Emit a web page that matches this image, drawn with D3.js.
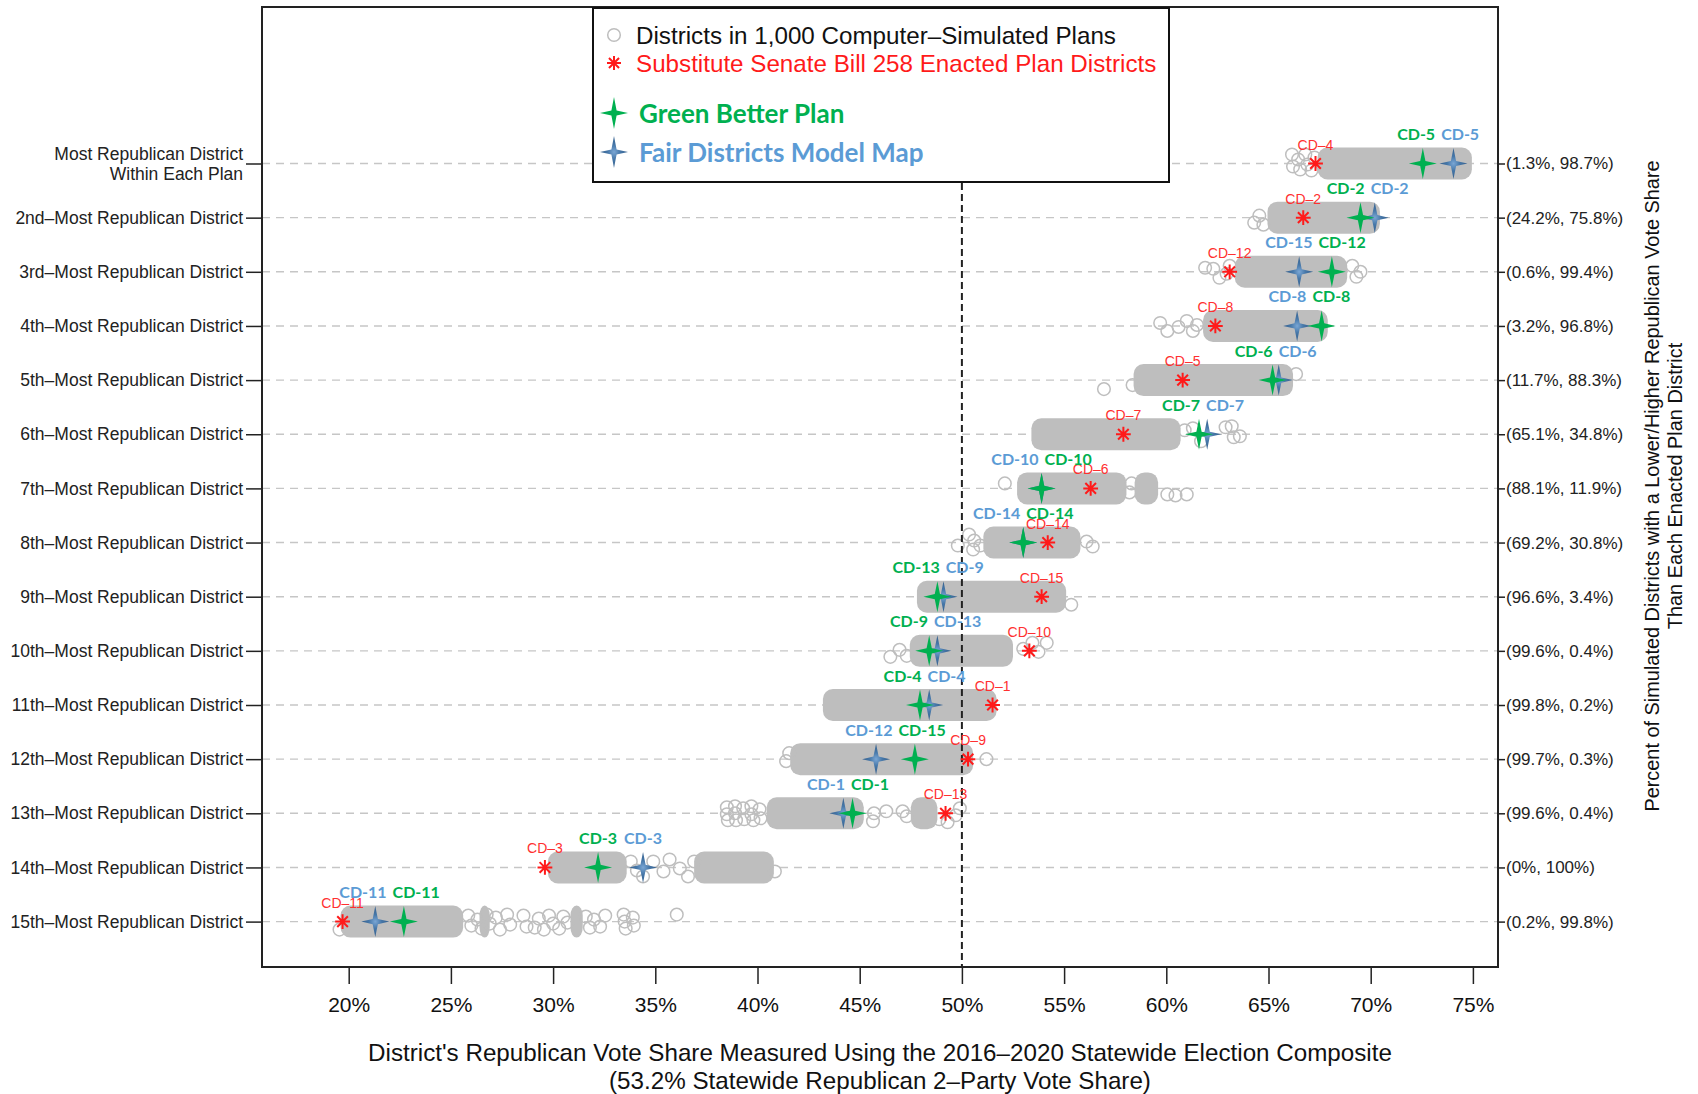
<!DOCTYPE html>
<html>
<head>
<meta charset="utf-8">
<script src="https://cdn.jsdelivr.net/npm/d3@7"></script>
<style>
  body { margin: 0; background: #fff; }
  svg { display: block; }
</style>
</head>
<body>
<svg id="chart" width="1698" height="1094"></svg>
<script>
// ---------------- DATA ----------------
const rowLabels = [
  ["Most Republican District", "Within Each Plan"],
  ["2nd–Most Republican District"], ["3rd–Most Republican District"], ["4th–Most Republican District"],
  ["5th–Most Republican District"], ["6th–Most Republican District"], ["7th–Most Republican District"],
  ["8th–Most Republican District"], ["9th–Most Republican District"], ["10th–Most Republican District"],
  ["11th–Most Republican District"], ["12th–Most Republican District"], ["13th–Most Republican District"],
  ["14th–Most Republican District"], ["15th–Most Republican District"]
];
const rightLabels = ["(1.3%, 98.7%)", "(24.2%, 75.8%)", "(0.6%, 99.4%)", "(3.2%, 96.8%)", "(11.7%, 88.3%)",
  "(65.1%, 34.8%)", "(88.1%, 11.9%)", "(69.2%, 30.8%)", "(96.6%, 3.4%)", "(99.6%, 0.4%)",
  "(99.8%, 0.2%)", "(99.7%, 0.3%)", "(99.6%, 0.4%)", "(0%, 100%)", "(0.2%, 99.8%)"];
const xTicks = [20, 25, 30, 35, 40, 45, 50, 55, 60, 65, 70, 75];

// Substitute Senate Bill 258 enacted plan (red asterisks)
const enactedValues = [67.3, 66.7, 63.1, 62.4, 60.8, 57.9, 56.3, 54.2, 53.9, 53.3, 51.5, 50.3, 49.2, 29.6, 19.7];
const enactedLabels = ["CD–4", "CD–2", "CD–12", "CD–8", "CD–5", "CD–7", "CD–6", "CD–14", "CD–15", "CD–10", "CD–1", "CD–9", "CD–13", "CD–3", "CD–11"];
// Green Better Plan
const greenValues = [72.55, 69.5, 68.1, 67.6, 65.2, 61.6, 53.9, 53.0, 48.8, 48.4, 47.95, 47.7, 44.65, 32.2, 22.7];
const greenLabels = ["CD-5", "CD-2", "CD-12", "CD-8", "CD-6", "CD-7", "CD-10", "CD-14", "CD-13", "CD-9", "CD-4", "CD-15", "CD-1", "CD-3", "CD-11"];
// Fair Districts Model Map
const blueValues = [74.05, 70.2, 66.5, 66.4, 65.5, 62.0, 53.9, 53.0, 49.1, 48.8, 48.4, 45.8, 44.2, 34.4, 21.3];
const blueLabels = ["CD-5", "CD-2", "CD-15", "CD-8", "CD-6", "CD-7", "CD-10", "CD-14", "CD-9", "CD-13", "CD-4", "CD-12", "CD-1", "CD-3", "CD-11"];

// Districts in 1,000 simulated plans: solid (overplotted) stretches [from %, to %]
const simBands = [
  [[67.4, 74.95]],
  [[64.95, 70.45]],
  [[63.35, 68.85]],
  [[61.8, 67.9]],
  [[58.4, 66.2]],
  [[53.4, 60.7]],
  [[52.7, 58.05], [58.45, 59.6]],
  [[51.05, 55.8]],
  [[47.8, 55.1]],
  [[47.45, 52.5]],
  [[43.2, 51.7]],
  [[41.6, 50.55]],
  [[40.45, 45.2], [47.5, 48.8]],
  [[29.75, 33.6], [36.9, 40.8]],
  [[19.6, 25.6], [26.4, 26.9], [30.85, 31.45]]
];
// simulated districts visible one by one: [vote share %, vertical jitter -1..1]
const simOutliers = [
  [[66.15,-0.9],[66.2,0.3],[66.45,-0.4],[66.55,0.6],[66.8,-0.9],[66.9,0.1],[67.1,0.7],[67.25,-0.6]],
  [[64.3,0.5],[64.55,-0.2],[64.75,0.7]],
  [[61.9,-0.4],[62.3,-0.3],[62.6,0.6],[62.95,0.2],[63.1,-0.6],[69.1,-0.6],[69.3,0.5],[69.5,0]],
  [[59.7,-0.3],[60.05,0.5],[60.6,0.1],[61.0,-0.5],[61.3,0.5],[61.5,-0.1]],
  [[56.95,0.9],[58.35,0.5],[66.35,-0.6]],
  [[60.9,-0.4],[61.3,-0.6],[61.7,0.7],[62.9,-0.7],[63.2,-0.8],[63.3,0.3],[63.6,0.2]],
  [[52.1,-0.5],[58.2,0.4],[58.3,-0.5],[60.05,0.6],[60.45,0.7],[61.0,0.6]],
  [[49.8,0.3],[50.35,-0.8],[50.55,0.7],[50.6,-0.2],[50.9,0.3],[56.1,-0.1],[56.4,0.4]],
  [[55.35,0.8]],
  [[46.5,0.6],[46.95,-0.1],[47.3,0.5],[53.0,-0.2],[53.45,-0.8],[53.75,0.1],[54.15,-0.8]],
  [],
  [[41.4,0.2],[41.55,-0.6],[51.2,0]],
  [[38.5,-0.6],[38.5,0.1],[38.55,0.7],[38.9,-0.7],[38.9,0],[38.95,0.7],[39.3,-0.5],[39.35,0.6],[39.7,-0.7],[39.7,0.1],[39.8,0.7],[40.1,-0.4],[40.15,0.5],
   [45.7,0],[45.65,0.8],[46.3,-0.2],[47.1,-0.2],[47.3,0.3],[48.9,0.6],[49.3,0.9],[49.7,0.2],[49.9,-0.5]],
  [[33.8,-0.6],[34.1,0.3],[34.4,0.9],[34.9,-0.6],[35.4,0.4],[35.7,-0.8],[36.2,0.1],[36.6,0.9],[36.9,-0.6],[40.85,0.4]],
  [[19.55,0.8],[25.85,-0.6],[26.0,0.4],[26.3,-0.2],[26.5,0.7],[26.75,-0.7],[26.9,0.2],[27.2,-0.4],[27.4,0.8],[27.75,-0.7],[27.9,0.3],
   [28.55,-0.6],[28.7,0.5],[29.1,0.6],[29.3,-0.3],[29.55,0.8],[29.8,-0.6],[30.0,0.2],[30.3,0.7],[30.5,-0.5],[30.7,0.1],
   [31.6,-0.5],[31.8,0.6],[32.0,-0.2],[32.3,0.5],[32.55,-0.6],[33.45,-0.7],[33.5,0],[33.55,0.7],[33.9,-0.4],[33.95,0.4],[36.05,-0.7]]
];

const legendItems = [
  {type: "circle", text: "Districts in 1,000 Computer–Simulated Plans"},
  {type: "asterisk", text: "Substitute Senate Bill 258 Enacted Plan Districts"},
  {type: "green", text: "Green Better Plan"},
  {type: "blue", text: "Fair Districts Model Map"}
];
const xTitle = ["District's Republican Vote Share Measured Using the 2016–2020 Statewide Election Composite",
                "(53.2% Statewide Republican 2–Party Vote Share)"];
const rightTitle = ["Percent of Simulated Districts with a Lower/Higher Republican Vote Share",
                    "Than Each Enacted Plan District"];

// ---------------- STYLE / LAYOUT ----------------
const FONT = "'Liberation Sans', Arial, Helvetica, sans-serif";
const CAL = "Lato, 'Open Sans', sans-serif";
const GREY = "#bebebe", RED = "#ff1a1a", GREEN = "#00b050", BLUE_TXT = "#5b9bd5";
const plot = {left: 262, right: 1498, top: 7, bottom: 967};

const svg = d3.select("#chart");
const defs = svg.append("defs");
const grad = defs.append("radialGradient").attr("id", "blueGrad");
grad.append("stop").attr("offset", "0%").attr("stop-color", "#7aa6d4");
grad.append("stop").attr("offset", "45%").attr("stop-color", "#4677a8");
grad.append("stop").attr("offset", "100%").attr("stop-color", "#355f8c");

const x = d3.scaleLinear().domain([20, 75]).range([348.7, 1472.9]);
const y = d3.scalePoint().domain(d3.range(rowLabels.length)).range([163.5, 921.6]);

function starPath(h, w, k) {
  return `M0,${-h}L${k},${-k}L${w},0L${k},${k}L0,${h}L${-k},${k}L${-w},0L${-k},${-k}Z`;
}
function asteriskPath(r) {
  const d = r * 0.72;
  return `M${-r},0H${r}M0,${-r}V${r}M${-d},${-d}L${d},${d}M${-d},${d}L${d},${-d}`;
}

// gridlines
svg.append("g").selectAll("line").data(y.domain()).join("line")
  .attr("x1", plot.left).attr("x2", plot.right)
  .attr("y1", d => y(d)).attr("y2", d => y(d))
  .attr("stroke", "#c6c6c6").attr("stroke-width", 1.4).attr("stroke-dasharray", "8,6");

// simulated clouds
const cloud = svg.append("g");
simBands.forEach((segs, i) => {
  cloud.append("g").selectAll("rect").data(segs).join("rect")
    .attr("x", d => x(d[0])).attr("width", d => x(d[1]) - x(d[0]))
    .attr("y", y(i) - 16).attr("height", 32).attr("rx", 10).attr("ry", 10)
    .attr("fill", GREY);
  cloud.append("g").selectAll("circle").data(simOutliers[i]).join("circle")
    .attr("cx", d => x(d[0])).attr("cy", d => y(i) + d[1] * 10).attr("r", 6.3)
    .attr("fill", "none").attr("stroke", GREY).attr("stroke-width", 1.5);
});

// 50% reference line
svg.append("line")
  .attr("x1", x(50)).attr("x2", x(50)).attr("y1", plot.top).attr("y2", plot.bottom)
  .attr("stroke", "#222").attr("stroke-width", 2).attr("stroke-dasharray", "7,4");

// enacted plan asterisks
svg.append("g").selectAll("path").data(enactedValues).join("path")
  .attr("transform", (d, i) => `translate(${x(d)},${y(i)})`)
  .attr("d", asteriskPath(7.4))
  .attr("stroke", RED).attr("stroke-width", 2).attr("fill", "none");

// stars
svg.append("g").selectAll("path").data(blueValues).join("path")
  .attr("transform", (d, i) => `translate(${x(d)},${y(i)})`)
  .attr("d", starPath(15.5, 14, 2.6)).attr("fill", "url(#blueGrad)");
svg.append("g").selectAll("path").data(greenValues).join("path")
  .attr("transform", (d, i) => `translate(${x(d)},${y(i)})`)
  .attr("d", starPath(15.5, 14, 2.6)).attr("fill", GREEN);

// enacted labels
svg.append("g").selectAll("text").data(enactedValues).join("text")
  .attr("x", d => x(d)).attr("y", (d, i) => y(i) - 19)
  .attr("text-anchor", "middle").attr("dominant-baseline", "central")
  .attr("font-family", FONT).attr("font-size", 14).attr("fill", "#ff3030")
  .text((d, i) => enactedLabels[i]);

// green / blue labels, pushed apart when they collide
const lblG = svg.append("g");
greenValues.forEach((gv, i) => {
  const bv = blueValues[i];
  const items = [
    {v: bv, t: blueLabels[i], c: BLUE_TXT, o: 0},
    {v: gv, t: greenLabels[i], c: GREEN, o: 1}
  ].sort((a, b) => (a.v - b.v) || (a.o - b.o));
  const texts = items.map(it => lblG.append("text")
    .attr("y", y(i) - 30).attr("text-anchor", "middle").attr("dominant-baseline", "central")
    .attr("font-family", CAL).attr("font-weight", 700).attr("font-size", 16)
    .attr("fill", it.c).text(it.t));
  const w = texts.map(t => t.node().getComputedTextLength());
  let ca = x(items[0].v), cb = x(items[1].v);
  const need = (w[0] + w[1]) / 2 + 6;
  if (cb - ca < need) {
    const mid = (ca + cb) / 2;
    ca = mid - need / 2; cb = mid + need / 2;
  }
  texts[0].attr("x", ca); texts[1].attr("x", cb);
});

// axes
const xAxis = svg.append("g").attr("transform", `translate(0,${plot.bottom})`)
  .call(d3.axisBottom(x).tickValues(xTicks).tickFormat(d => d + "%").tickSize(17).tickPadding(13));
xAxis.select(".domain").remove();
xAxis.selectAll("line").attr("stroke", "#222").attr("stroke-width", 1.5);
xAxis.selectAll("text").attr("font-family", FONT).attr("font-size", 21).attr("fill", "#111");

const yAxis = svg.append("g").attr("transform", `translate(${plot.left},0)`)
  .call(d3.axisLeft(y).tickSize(16).tickPadding(3).tickFormat(d => rowLabels[d][0]));
yAxis.select(".domain").remove();
yAxis.selectAll("line").attr("stroke", "#222").attr("stroke-width", 1.5);
yAxis.selectAll("text").attr("font-family", FONT).attr("font-size", 17.5).attr("fill", "#222");
yAxis.selectAll(".tick").filter(d => rowLabels[d].length > 1).select("text")
  .text(null).attr("dy", null)
  .call(t => {
    const d = t.datum();
    rowLabels[d].forEach((line, k) => {
      t.append("tspan").attr("x", -19).attr("y", (k - (rowLabels[d].length - 1) / 2) * 20)
        .attr("dy", "0.32em").text(line);
    });
  });

const rAxis = svg.append("g").attr("transform", `translate(${plot.right},0)`)
  .call(d3.axisRight(y).tickSize(7).tickPadding(1).tickFormat(d => rightLabels[d]));
rAxis.select(".domain").remove();
rAxis.selectAll("line").attr("stroke", "#222").attr("stroke-width", 1.5);
rAxis.selectAll("text").attr("font-family", FONT).attr("font-size", 17).attr("fill", "#222");

// plot frame
svg.append("rect")
  .attr("x", plot.left).attr("y", plot.top)
  .attr("width", plot.right - plot.left).attr("height", plot.bottom - plot.top)
  .attr("fill", "none").attr("stroke", "#222").attr("stroke-width", 2);

// legend
const lg = svg.append("g");
lg.append("rect").attr("x", 593).attr("y", 8).attr("width", 576).attr("height", 174)
  .attr("fill", "#fff").attr("stroke", "#111").attr("stroke-width", 2);
const legendY = [35, 63, 113, 152];
legendItems.forEach((it, k) => {
  const cy = legendY[k];
  if (it.type === "circle") {
    lg.append("circle").attr("cx", 614).attr("cy", cy).attr("r", 6.3)
      .attr("fill", "none").attr("stroke", GREY).attr("stroke-width", 1.5);
  } else if (it.type === "asterisk") {
    lg.append("path").attr("transform", `translate(614,${cy})`).attr("d", asteriskPath(7))
      .attr("stroke", RED).attr("stroke-width", 2).attr("fill", "none");
  } else {
    lg.append("path").attr("transform", `translate(614,${cy})`).attr("d", starPath(16, 14, 2.6))
      .attr("fill", it.type === "green" ? GREEN : "url(#blueGrad)");
  }
  const bold = it.type === "green" || it.type === "blue";
  lg.append("text").attr("x", bold ? 639 : 636).attr("y", cy)
    .attr("dominant-baseline", "central")
    .attr("font-family", bold ? CAL : FONT).attr("font-weight", bold ? 700 : 400)
    .attr("font-size", bold ? 26 : 24.2)
    .attr("fill", it.type === "circle" ? "#111" : it.type === "asterisk" ? RED : it.type === "green" ? GREEN : BLUE_TXT)
    .text(it.text);
});

// axis titles
svg.append("g").selectAll("text").data(xTitle).join("text")
  .attr("x", (plot.left + plot.right) / 2).attr("y", (d, i) => 1052 + i * 28)
  .attr("text-anchor", "middle").attr("dominant-baseline", "central")
  .attr("font-family", FONT).attr("font-size", 24.2).attr("fill", "#111").text(d => d);

svg.append("g").selectAll("text").data(rightTitle).join("text")
  .attr("transform", (d, i) => `translate(${1652 + i * 23},486) rotate(-90)`)
  .attr("text-anchor", "middle").attr("dominant-baseline", "central")
  .attr("font-family", FONT).attr("font-size", 19.9).attr("fill", "#111").text(d => d);
</script>
</body>
</html>
